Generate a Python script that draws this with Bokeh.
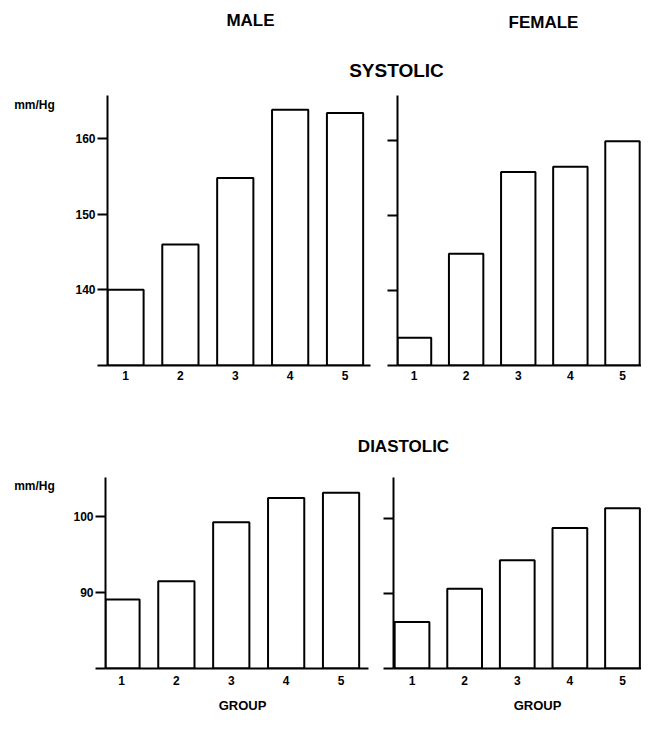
from bokeh.plotting import figure
from bokeh.models import Range1d, FixedTicker, Label
from bokeh.layouts import row, column
from bokeh.embed import file_html
from bokeh.resources import INLINE

# ---- data ----
groups = [1, 2, 3, 4, 5]
group_labels = ["1", "2", "3", "4", "5"]

male_systolic = [140.0, 146.0, 154.8, 163.8, 163.4]
female_systolic = [133.7, 144.9, 155.8, 156.5, 159.9]
male_diastolic = [89.1, 91.5, 99.3, 102.5, 103.2]
female_diastolic = [86.2, 90.6, 94.4, 98.7, 101.3]

systolic_ticks = [130, 140, 150, 160]
systolic_tick_labels = ["", "140", "150", "160"]
diastolic_ticks = [80, 90, 100]
diastolic_tick_labels = ["", "90", "100"]

FONT = "Liberation Sans"
BAR_WIDTH = 0.66


def panel(width, height, borders, xr, yr, values, ticks, tick_labels, show_labels, x_standoff):
    l, r, t, b = borders
    p = figure(width=width, height=height, x_range=Range1d(*xr), y_range=Range1d(*yr),
               output_backend="svg", toolbar_location=None, tools="",
               min_border_left=l, min_border_right=r, min_border_top=t, min_border_bottom=b)
    p.outline_line_color = None
    p.background_fill_color = "white"
    p.border_fill_color = "white"
    p.grid.visible = False
    p.vbar(x=groups, top=values, bottom=yr[0], width=BAR_WIDTH,
           fill_color="white", line_color="black", line_width=2)

    xa = p.xaxis[0]
    xa.ticker = FixedTicker(ticks=groups)
    xa.major_label_overrides = dict(zip(groups, group_labels))
    xa.major_tick_out = 0
    xa.major_tick_in = 0
    xa.minor_tick_out = 0
    xa.minor_tick_in = 0
    xa.axis_line_width = 2
    xa.axis_line_color = "black"
    xa.major_label_standoff = x_standoff
    xa.major_label_text_font = FONT
    xa.major_label_text_font_style = "bold"
    xa.major_label_text_font_size = "12px"
    xa.major_label_text_color = "black"

    ya = p.yaxis[0]
    ya.ticker = FixedTicker(ticks=ticks)
    labels = tick_labels if show_labels else ["" for _ in ticks]
    ya.major_label_overrides = dict(zip(ticks, labels))
    ya.major_tick_out = 10
    ya.major_tick_in = 0
    ya.minor_tick_out = 0
    ya.minor_tick_in = 0
    ya.major_tick_line_width = 2
    ya.major_tick_line_color = "black"
    ya.axis_line_width = 2
    ya.axis_line_color = "black"
    ya.major_label_standoff = 2
    ya.major_label_text_font = FONT
    ya.major_label_text_font_style = "bold"
    ya.major_label_text_font_size = "12px"
    ya.major_label_text_color = "black"
    return p


def add_label(p, text, x, y, size):
    p.add_layout(Label(x=x, y=y, x_units="screen", y_units="screen", text=text,
                       text_align="center", text_baseline="middle",
                       text_font=FONT, text_font_style="bold",
                       text_font_size=size, text_color="black"))


def text_band(width, height):
    f = figure(width=width, height=height, x_range=Range1d(0, width), y_range=Range1d(0, height),
               output_backend="svg", toolbar_location=None, tools="",
               x_axis_location=None, y_axis_location=None, min_border=0)
    f.outline_line_color = None
    f.grid.visible = False
    f.border_fill_color = "white"
    f.background_fill_color = "white"
    return f


# header band (titles)
header = text_band(641, 82)
add_label(header, "MALE", 250, 62, "17px")
add_label(header, "FEMALE", 543, 60, "17px")
add_label(header, "SYSTOLIC", 396, 12, "19px")

# unit labels to the left of the panels (frames are aligned with the row's panels)
unit_top = text_band(62, 318)
add_label(unit_top, "mm/Hg", 34, 261, "12px")
unit_bot = text_band(62, 234)
add_label(unit_bot, "mm/Hg", 34, 183, "12px")

# middle band
mid = text_band(641, 62)
add_label(mid, "DIASTOLIC", 403, 16, "17px")

# bottom band (x axis titles)
foot = text_band(641, 18)
add_label(foot, "GROUP", 242, 9, "13px")
add_label(foot, "GROUP", 537, 9, "13px")

tl = panel(318, 318, (45, 10, 13, 35), (0.672, 5.464), (130, 165.7),
           male_systolic, systolic_ticks, systolic_tick_labels, True, 5)
tr = panel(261, 318, (17, 0, 13, 35), (0.683, 5.365), (130, 166),
           female_systolic, systolic_ticks, systolic_tick_labels, False, 5)
bl = panel(318, 234, (43, 12, 15, 28), (0.709, 5.5), (80, 105.2),
           male_diastolic, diastolic_ticks, diastolic_tick_labels, True, 7)
br = panel(261, 234, (13, 0, 15, 28), (0.648, 5.361), (80, 105.4),
           female_diastolic, diastolic_ticks, diastolic_tick_labels, False, 7)

layout = column(header,
                row(unit_top, tl, tr, spacing=0),
                mid,
                row(unit_bot, bl, br, spacing=0),
                foot,
                spacing=0)

open("out.html", "w").write(file_html(layout, INLINE))
